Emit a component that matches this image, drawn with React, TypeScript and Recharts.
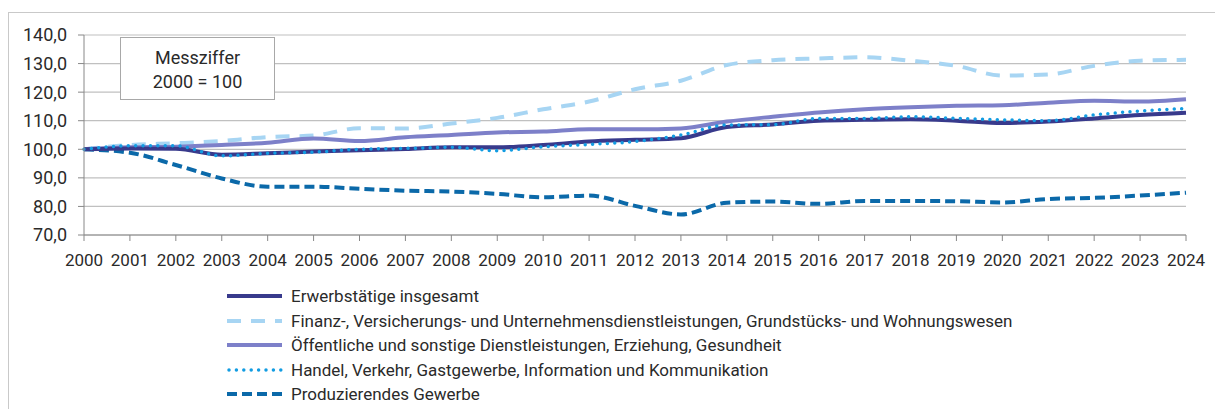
import { CartesianGrid, Legend, Line, LineChart, XAxis, YAxis } from 'recharts';

const years = [
  '2000', '2001', '2002', '2003', '2004', '2005', '2006', '2007', '2008', '2009', '2010', '2011', '2012',
  '2013', '2014', '2015', '2016', '2017', '2018', '2019', '2020', '2021', '2022', '2023', '2024'
];

const erwerbstaetige = [
  100, 100.3, 100.2, 98.1, 98.6, 99.2, 99.7, 100.1, 100.7, 100.7, 101.5, 102.7, 103.3,
  103.9, 107.8, 108.7, 110.0, 110.3, 110.5, 110.0, 109.2, 109.7, 110.8, 112.0, 112.8
];
const finanz = [
  100, 101.5, 102.1, 102.9, 104.3, 104.8, 107.4, 107.3, 109.0, 111.0, 114.0, 116.7, 121.0,
  124.0, 129.5, 131.2, 131.8, 132.2, 131.0, 129.2, 125.8, 126.2, 129.2, 131.0, 131.3
];
const oeffentliche = [
  100, 100.7, 100.9, 101.5, 102.3, 103.8, 102.9, 104.2, 105.0, 105.9, 106.2, 107.0, 107.0,
  107.3, 109.7, 111.4, 112.9, 114.0, 114.7, 115.2, 115.4, 116.3, 117.0, 116.7, 117.5
];
const handel = [
  100, 101.2, 101.2, 97.7, 98.6, 99.0, 100.0, 100.3, 100.7, 99.5, 100.9, 101.7, 102.7,
  105.0, 108.5, 108.6, 110.8, 110.8, 111.4, 110.8, 110.3, 110.0, 112.0, 113.4, 114.3
];
const produzierendes = [
  100, 98.8, 94.5, 89.8, 86.9, 86.9, 86.2, 85.5, 85.2, 84.4, 83.2, 83.8, 80.2,
  77.2, 81.3, 81.7, 80.9, 81.9, 81.9, 81.8, 81.4, 82.6, 83.0, 83.8, 84.8
];

const yTicks = [70, 80, 90, 100, 110, 120, 130, 140];

type Series = {
  key: string;
  name: string;
  color: string;
  width: number;
  dash?: string;
  cap?: 'round' | 'butt';
};

// legend order
const series: Series[] = [
  { key: 'erwerbstaetige', name: 'Erwerbstätige insgesamt', color: '#383a8c', width: 4 },
  {
    key: 'finanz',
    name: 'Finanz-, Versicherungs- und Unternehmensdienstleistungen, Grundstücks- und Wohnungswesen',
    color: '#a7d5f3',
    width: 4,
    dash: '14 10'
  },
  { key: 'oeffentliche', name: 'Öffentliche und sonstige Dienstleistungen, Erziehung, Gesundheit', color: '#7d80c9', width: 4 },
  { key: 'handel', name: 'Handel, Verkehr, Gastgewerbe, Information und Kommunikation', color: '#129ce2', width: 3.5, dash: '0 7.4', cap: 'round' },
  { key: 'produzierendes', name: 'Produzierendes Gewerbe', color: '#0b69a9', width: 4, dash: '10 5' }
];

// drawing order (dots on top)
const drawOrder = ['produzierendes', 'finanz', 'oeffentliche', 'erwerbstaetige', 'handel'];

const data = years.map((year, i) => ({
  year,
  erwerbstaetige: erwerbstaetige[i],
  finanz: finanz[i],
  oeffentliche: oeffentliche[i],
  handel: handel[i],
  produzierendes: produzierendes[i]
}));

const FONT = 'Roboto, "Open Sans", sans-serif';
const TEXT = '#2a2a2a';

function formatValue(v: number): string {
  return v.toFixed(1).replace('.', ',');
}

function LegendList(): React.ReactElement {
  return (
    <div style={{ fontFamily: FONT, fontSize: 17, color: TEXT }}>
      {series.map((s) => (
        <div key={s.key} style={{ height: 24.5, display: 'flex', alignItems: 'center', whiteSpace: 'nowrap' }}>
          <svg width={56} height={10} style={{ marginRight: 8, flex: 'none' }}>
            <line
              x1={s.cap === 'round' ? 2 : 0}
              x2={55}
              y1={5}
              y2={5}
              stroke={s.color}
              strokeWidth={s.width}
              strokeDasharray={s.dash}
              strokeLinecap={s.cap ?? 'butt'}
            />
          </svg>
          <span>{s.name}</span>
        </div>
      ))}
    </div>
  );
}

export default function App(): React.ReactElement {
  return (
    <div style={{ position: 'relative', width: 1215, height: 409, overflow: 'hidden', background: '#fff' }}>
      <style>{'body{margin:0}'}</style>
      <div
        style={{
          position: 'absolute',
          left: 8,
          top: 12,
          width: 1400,
          height: 600,
          borderLeft: '1px solid #c9c9c9',
          borderTop: '1px solid #c9c9c9'
        }}
      />
      <div style={{ position: 'absolute', left: 0, top: 0 }}>
        <LineChart width={1215} height={409} data={data} margin={{ top: 35, right: 29, bottom: 139, left: 0 }}>
          <CartesianGrid vertical={false} stroke="#c0c0c0" strokeWidth={1.2} />
          <XAxis
            dataKey="year"
            height={35}
            interval={0}
            stroke="#888"
            tickSize={6}
            tickMargin={13}
            tick={{ fill: TEXT, fontSize: 17, fontFamily: FONT }}
          />
          <YAxis
            width={84}
            domain={[70, 140]}
            ticks={yTicks}
            stroke="#888"
            tickSize={6}
            tickMargin={11}
            tickFormatter={formatValue}
            tick={{ fill: TEXT, fontSize: 18, fontFamily: FONT }}
          />
          {drawOrder.map((k) => {
            const s = series.find((x) => x.key === k)!;
            return (
              <Line
                key={s.key}
                type="monotone"
                dataKey={s.key}
                name={s.name}
                stroke={s.color}
                strokeWidth={s.width}
                strokeDasharray={s.dash}
                strokeLinecap={s.cap ?? 'butt'}
                dot={false}
                activeDot={false}
                isAnimationActive={false}
              />
            );
          })}
          <Legend
            layout="horizontal"
            verticalAlign="middle"
            align="center"
            content={() => <LegendList />}
            wrapperStyle={{ left: 227, top: 284, width: 900 }}
          />
        </LineChart>
      </div>
      <div
        style={{
          position: 'absolute',
          left: 120,
          top: 37,
          width: 155,
          height: 63,
          boxSizing: 'border-box',
          border: '1px solid #a8a8a8',
          background: '#fff',
          fontFamily: FONT,
          fontSize: 18,
          color: TEXT,
          textAlign: 'center',
          lineHeight: '24px',
          paddingTop: 8
        }}
      >
        <div>Messziffer</div>
        <div>2000 = 100</div>
      </div>
    </div>
  );
}
